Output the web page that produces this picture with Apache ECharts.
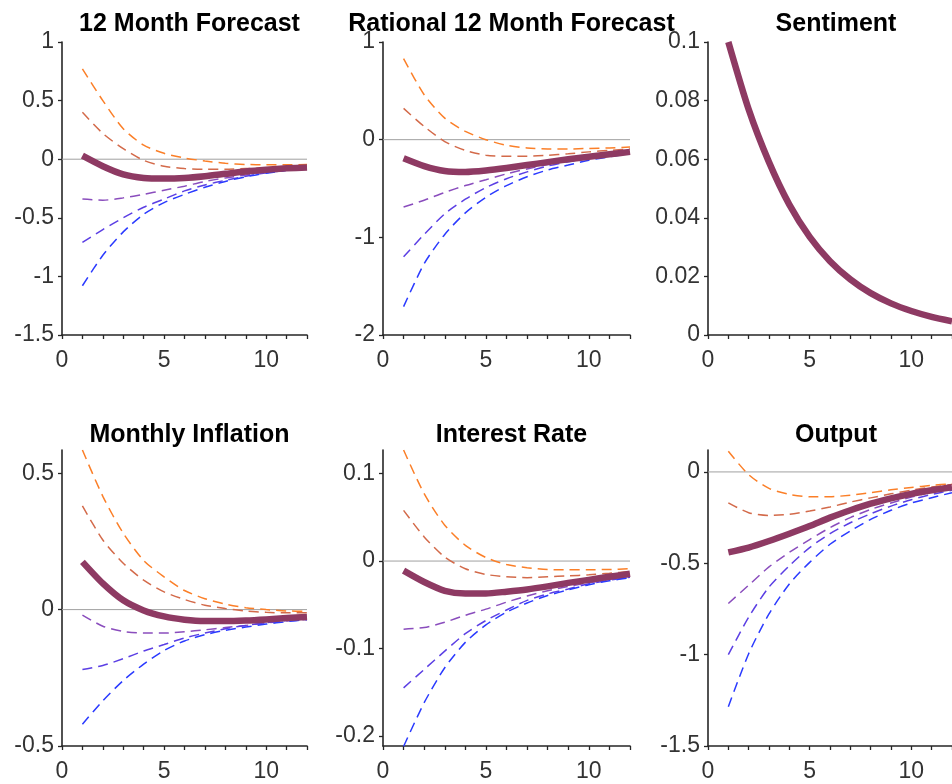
<!DOCTYPE html>
<html lang="en">
<head>
    <meta charset="UTF-8">
    <title>Impulse responses</title>
    <script src="https://cdn.jsdelivr.net/npm/echarts@6.0.0/dist/echarts.min.js"></script>
    <style>
        html, body { margin: 0; padding: 0; background: #fff; }
        #main { width: 952px; height: 784px; }
    </style>
</head>
<body>
<div id="main"></div>
<script>
    // horizon (months)
    var months = [1, 2, 3, 4, 5, 6, 7, 8, 9, 10, 11, 12];
    var xTicks = [0, 1, 2, 3, 4, 5, 6, 7, 8, 9, 10, 11, 12];
    var xLabels = [0, 5, 10];

    var titles = ['12 Month Forecast', 'Rational 12 Month Forecast', 'Sentiment',
                  'Monthly Inflation', 'Interest Rate', 'Output'];

    // y ranges and tick labels per panel
    var yMin = [-1.5, -2, 0, -0.5, -0.2115, -1.5];
    var yMax = [1, 1, 0.1, 0.585, 0.127, 0.12];
    var yTicks = [
        [-1.5, -1, -0.5, 0, 0.5, 1],
        [-2, -1, 0, 1],
        [0, 0.02, 0.04, 0.06, 0.08, 0.1],
        [-0.5, 0, 0.5],
        [-0.2, -0.1, 0, 0.1],
        [-1.5, -1, -0.5, 0]
    ];

    // 12 month forecast
    var fc12Orange = [0.77, 0.50, 0.26, 0.12, 0.05, 0.01, -0.015, -0.035, -0.045, -0.048, -0.048, -0.045];
    var fc12Brown  = [0.40, 0.22, 0.09, -0.01, -0.06, -0.08, -0.085, -0.085, -0.08, -0.075, -0.07, -0.06];
    var fc12Purple = [-0.34, -0.35, -0.33, -0.30, -0.265, -0.23, -0.19, -0.16, -0.135, -0.11, -0.09, -0.075];
    var fc12Violet = [-0.71, -0.60, -0.50, -0.41, -0.34, -0.27, -0.22, -0.18, -0.145, -0.115, -0.095, -0.08];
    var fc12Blue   = [-1.08, -0.82, -0.62, -0.47, -0.37, -0.30, -0.24, -0.19, -0.15, -0.12, -0.095, -0.08];
    var fc12Mean   = [0.03, -0.06, -0.13, -0.16, -0.165, -0.16, -0.145, -0.125, -0.105, -0.09, -0.078, -0.07];

    // rational 12 month forecast
    var ratOrange = [0.83, 0.46, 0.22, 0.085, 0, -0.058, -0.085, -0.095, -0.095, -0.09, -0.085, -0.075];
    var ratBrown  = [0.32, 0.135, -0.02, -0.11, -0.16, -0.17, -0.17, -0.16, -0.145, -0.125, -0.11, -0.095];
    var ratPurple = [-0.69, -0.62, -0.54, -0.47, -0.41, -0.35, -0.30, -0.255, -0.215, -0.18, -0.15, -0.125];
    var ratViolet = [-1.20, -0.97, -0.76, -0.61, -0.49, -0.40, -0.33, -0.27, -0.225, -0.19, -0.16, -0.14];
    var ratBlue   = [-1.71, -1.27, -0.97, -0.75, -0.59, -0.47, -0.38, -0.31, -0.26, -0.21, -0.175, -0.14];
    var ratMean   = [-0.19, -0.27, -0.32, -0.33, -0.315, -0.29, -0.26, -0.23, -0.20, -0.175, -0.15, -0.125];

    // sentiment
    var sentMean = [0.1, 0.077, 0.059, 0.0445, 0.0335, 0.0252, 0.019, 0.0143, 0.0108, 0.0082, 0.0062, 0.0047];

    // monthly inflation
    var infOrange = [0.585, 0.415, 0.28, 0.18, 0.12, 0.07, 0.04, 0.02, 0.007, 0, -0.005, -0.006];
    var infBrown  = [0.38, 0.255, 0.17, 0.108, 0.065, 0.037, 0.016, 0.004, -0.005, -0.01, -0.012, -0.012];
    var infPurple = [-0.02, -0.061, -0.08, -0.086, -0.086, -0.081, -0.074, -0.066, -0.058, -0.049, -0.042, -0.036];
    var infViolet = [-0.22, -0.205, -0.18, -0.152, -0.128, -0.104, -0.086, -0.07, -0.058, -0.048, -0.04, -0.033];
    var infBlue   = [-0.42, -0.334, -0.26, -0.20, -0.15, -0.115, -0.092, -0.076, -0.064, -0.053, -0.044, -0.037];
    var infMean   = [0.175, 0.096, 0.034, -0.003, -0.025, -0.037, -0.042, -0.042, -0.04, -0.036, -0.031, -0.027];

    // interest rate
    var rateOrange = [0.127, 0.077, 0.041, 0.018, 0.004, -0.004, -0.0077, -0.0096, -0.01, -0.01, -0.0096, -0.0088];
    var rateBrown  = [0.058, 0.0276, 0.0046, -0.0088, -0.0153, -0.018, -0.019, -0.018, -0.017, -0.0157, -0.014, -0.012];
    var ratePurple = [-0.078, -0.076, -0.07, -0.062, -0.055, -0.047, -0.04, -0.034, -0.029, -0.025, -0.021, -0.0176];
    var rateViolet = [-0.145, -0.124, -0.103, -0.083, -0.068, -0.056, -0.045, -0.0375, -0.032, -0.026, -0.022, -0.0184];
    var rateBlue   = [-0.212, -0.162, -0.122, -0.093, -0.073, -0.0585, -0.048, -0.0394, -0.033, -0.027, -0.0226, -0.019];
    var rateMean   = [-0.011, -0.024, -0.034, -0.037, -0.037, -0.035, -0.0325, -0.029, -0.025, -0.0215, -0.018, -0.0145];

    // output
    var outOrange = [0.113, -0.015, -0.09, -0.123, -0.136, -0.136, -0.127, -0.114, -0.098, -0.085, -0.074, -0.064];
    var outBrown  = [-0.169, -0.223, -0.238, -0.232, -0.214, -0.192, -0.165, -0.142, -0.12, -0.10, -0.083, -0.069];
    var outPurple = [-0.72, -0.62, -0.52, -0.44, -0.37, -0.305, -0.25, -0.205, -0.17, -0.138, -0.11, -0.09];
    var outViolet = [-1.0, -0.795, -0.63, -0.514, -0.414, -0.338, -0.278, -0.229, -0.187, -0.152, -0.123, -0.10];
    var outBlue   = [-1.285, -0.995, -0.777, -0.613, -0.495, -0.396, -0.323, -0.26, -0.21, -0.17, -0.141, -0.114];
    var outMean   = [-0.44, -0.414, -0.378, -0.338, -0.296, -0.25, -0.21, -0.174, -0.145, -0.12, -0.10, -0.083];

    var dashedSets = [
        [fc12Orange, fc12Brown, fc12Purple, fc12Violet, fc12Blue],
        [ratOrange, ratBrown, ratPurple, ratViolet, ratBlue],
        [],
        [infOrange, infBrown, infPurple, infViolet, infBlue],
        [rateOrange, rateBrown, ratePurple, rateViolet, rateBlue],
        [outOrange, outBrown, outPurple, outViolet, outBlue]
    ];
    var meanSets = [fc12Mean, ratMean, sentMean, infMean, rateMean, outMean];

    var dashColors = ['#fb7f28', '#d36a4a', '#8a4dbd', '#5b3fe4', '#2a3aff'];
    var meanColor = '#8e3a63';
    var axisColor = '#262626';
    var font = '"Liberation Sans", Arial, Helvetica, sans-serif';

    // panel boxes: left, top, width, height
    var boxes = [
        [62, 42, 245, 293],
        [383, 42, 247, 293],
        [708, 42, 246, 293],
        [62, 450, 245, 296],
        [383, 450, 247, 296],
        [708, 450, 246, 296]
    ];

    function pairs(vals) {
        return months.map(function (m, i) { return [m, vals[i]]; });
    }

    var grid = [], xAxis = [], yAxis = [], series = [], title = [];

    for (var p = 0; p < 6; p++) {
        var b = boxes[p];
        grid.push({left: b[0], top: b[1], width: b[2], height: b[3], containLabel: false});

        title.push({
            text: titles[p],
            left: b[0] + b[2] / 2,
            top: p < 3 ? 7 : 418,
            textAlign: 'center',
            textStyle: {fontFamily: font, fontSize: 25, fontWeight: 'bold', color: '#000'}
        });

        xAxis.push({
            type: 'value', gridIndex: p, min: 0, max: 12,
            splitLine: {show: false},
            axisLine: {onZero: false, lineStyle: {color: axisColor, width: 1.6}},
            axisTick: {show: true, inside: false, length: 4, customValues: xTicks,
                lineStyle: {color: axisColor, width: 1.3}},
            axisLabel: {customValues: xLabels, margin: 14, color: '#333',
                fontFamily: font, fontSize: 23}
        });

        yAxis.push({
            type: 'value', gridIndex: p, min: yMin[p], max: yMax[p],
            splitLine: {show: false},
            axisLine: {show: true, onZero: false, lineStyle: {color: axisColor, width: 1.6}},
            axisTick: {show: true, inside: false, length: 4, customValues: yTicks[p],
                lineStyle: {color: axisColor, width: 1.3}},
            axisLabel: {customValues: yTicks[p], margin: 8, color: '#333',
                fontFamily: font, fontSize: 23}
        });

        // zero line
        if (p !== 2) {
            series.push({
                type: 'line', xAxisIndex: p, yAxisIndex: p, silent: true,
                data: [[0, 0], [12, 0]], symbol: 'none', z: 1,
                lineStyle: {color: '#a0a0a0', width: 1}
            });
        }

        dashedSets[p].forEach(function (vals, k) {
            series.push({
                type: 'line', xAxisIndex: p, yAxisIndex: p, silent: true,
                data: pairs(vals), symbol: 'none', z: 2, smooth: 0.25,
                lineStyle: {color: dashColors[k], width: 1.5, type: [10, 6]}
            });
        });

        series.push({
            type: 'line', xAxisIndex: p, yAxisIndex: p, silent: true,
            data: pairs(meanSets[p]), symbol: 'none', z: 3, smooth: 0.25,
            lineStyle: {color: meanColor, width: 6.5, cap: 'butt', join: 'round'}
        });
    }

    var chart = echarts.init(document.getElementById('main'), null, {renderer: 'canvas'});
    chart.setOption({
        backgroundColor: '#fff',
        animation: false,
        title: title,
        grid: grid,
        xAxis: xAxis,
        yAxis: yAxis,
        series: series
    });
</script>
</body>
</html>
